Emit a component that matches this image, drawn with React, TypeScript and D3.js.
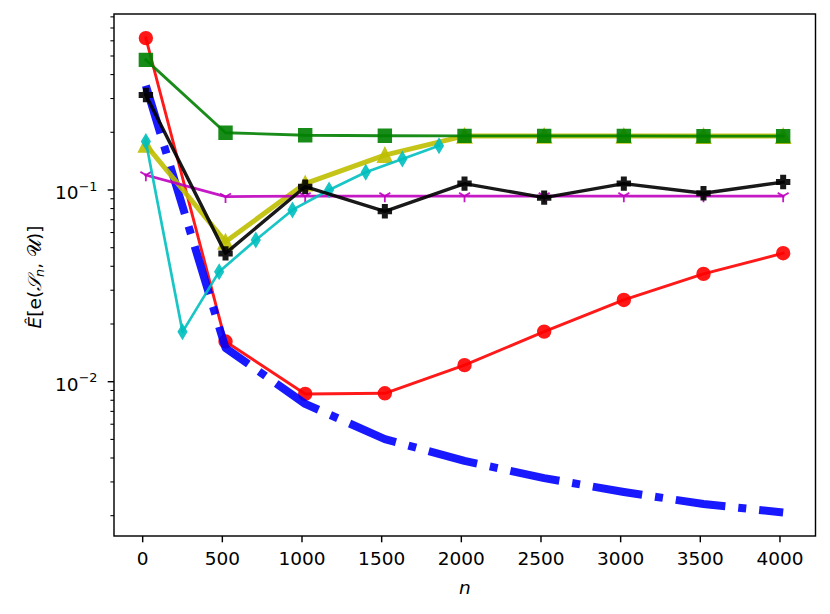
import React from "react";
import * as d3 from "d3";

// ---- data ----
const nValues = [20, 520, 1020, 1520, 2020, 2520, 3020, 3520, 4020];
const cyanN = [20, 250, 480, 710, 940, 1170, 1400, 1630, 1860];

const redVals = [0.62, 0.0162, 0.00863, 0.0087, 0.0122, 0.01825, 0.0267, 0.0365, 0.0468];
const blueVals = [0.35, 0.015, 0.00766, 0.00502, 0.00386, 0.00314, 0.00266, 0.0023, 0.00208];
const greenVals = [0.477, 0.199, 0.193, 0.192, 0.1915, 0.1915, 0.1915, 0.191, 0.191];
const yellowVals = [0.172, 0.0537, 0.108, 0.152, 0.1915, 0.1915, 0.1915, 0.191, 0.191];
const magentaVals = [0.1197, 0.0923, 0.093, 0.093, 0.093, 0.093, 0.093, 0.093, 0.093];
const cyanVals = [0.179, 0.0182, 0.0375, 0.0548, 0.0787, 0.1, 0.1237, 0.145, 0.17];
const blackVals = [0.313, 0.0467, 0.104, 0.0774, 0.108, 0.0912, 0.108, 0.0961, 0.11];

const xTicks = [0, 500, 1000, 1500, 2000, 2500, 3000, 3500, 4000];
const yMajor = [0.01, 0.1];
const yMajorLabels = ["−2", "−1"];

// ---- layout ----
const W = 830, H = 614;
const L = 114, R = 815.5, T = 14, B = 536;
const FONT = "'DejaVu Sans', 'Noto Sans', sans-serif";
const FS = 18.5;

type Marker = "circle" | "square" | "plus" | "tri" | "thindiamond" | "tridown" | "none";

function markerPath(m: Marker, s: number): string {
  const h = s / 2;
  switch (m) {
    case "square":
      return `M${-h},${-h}H${h}V${h}H${-h}Z`;
    case "plus": {
      const u = s / 6;
      const pts = [[-1, -3], [1, -3], [1, -1], [3, -1], [3, 1], [1, 1], [1, 3], [-1, 3], [-1, 1], [-3, 1], [-3, -1], [-1, -1]];
      return "M" + pts.map(p => `${p[0] * u},${p[1] * u}`).join("L") + "Z";
    }
    case "tri":
      return `M0,${-h}L${-h},${h}L${h},${h}Z`;
    case "thindiamond":
      return `M0,${-h}L${0.6 * h},0L0,${h}L${-0.6 * h},0Z`;
    case "tridown":
      return `M0,0L0,${h}M0,0L${-0.866 * h},${-0.5 * h}M0,0L${0.866 * h},${-0.5 * h}`;
    default:
      return "";
  }
}

const txt: React.CSSProperties = { fontFamily: FONT };

export default function App() {
  const x = d3.scaleLinear().domain([-180, 4223]).range([L, R]);
  const y = d3.scaleLog().domain([0.001567, 0.828]).range([B, T]);

  const series = [
    { xs: nValues, ys: redVals, color: "#ff0000", lw: 2.9, marker: "circle" as Marker, ms: 12.6, dash: undefined as string | undefined },
    { xs: nValues, ys: blueVals, color: "#0000ff", lw: 8, marker: "none" as Marker, ms: 0, dash: "50,13,8,13" },
    { xs: nValues, ys: yellowVals, color: "#bfbf00", lw: 5, marker: "tri" as Marker, ms: 14, dash: undefined },
    { xs: nValues, ys: magentaVals, color: "#bf00bf", lw: 2.7, marker: "tridown" as Marker, ms: 12.6, dash: undefined },
    { xs: cyanN, ys: cyanVals, color: "#00bfbf", lw: 2.7, marker: "thindiamond" as Marker, ms: 13.5, dash: undefined },
    { xs: nValues, ys: greenVals, color: "#008000", lw: 2.9, marker: "square" as Marker, ms: 12.6, dash: undefined },
    { xs: nValues, ys: blackVals, color: "#000000", lw: 3.4, marker: "plus" as Marker, ms: 12.6, dash: undefined },
  ];

  const line = d3.line<[number, number]>().x(d => x(d[0])).y(d => y(d[1]));

  const minorTicks: number[] = [];
  for (const dec of [0.001, 0.01, 0.1]) {
    for (let k = 2; k <= 9; k++) {
      const v = dec * k;
      if (v >= 0.001567 && v <= 0.828) minorTicks.push(v);
    }
  }

  return (
    <svg width={W} height={H} style={{ position: "absolute", left: 0, top: 0, background: "#fff", fontFamily: FONT }}>
      <rect x={0} y={0} width={W} height={H} fill="#fff" />
      <defs>
        <clipPath id="plotclip">
          <rect x={L} y={T} width={R - L} height={B - T} />
        </clipPath>
      </defs>
      <g clipPath="url(#plotclip)">
        {series.map((s, i) => {
          const pts = s.xs.map((xv, j) => [xv, s.ys[j]] as [number, number]);
          return (
            <g key={i}>
              <path d={line(pts) || ""} fill="none" stroke={s.color} strokeWidth={s.lw} strokeOpacity={0.9}
                strokeLinejoin="round" strokeLinecap={s.dash ? "butt" : "square"} strokeDasharray={s.dash} />
              {s.marker !== "none" && pts.map((p, j) => {
                const cx = x(p[0]), cy = y(p[1]);
                if (s.marker === "circle") {
                  return <circle key={j} cx={cx} cy={cy} r={s.ms / 2} fill={s.color} stroke={s.color} strokeWidth={1.8} opacity={0.9} />;
                }
                if (s.marker === "tridown") {
                  return <path key={j} transform={`translate(${cx},${cy})`} d={markerPath(s.marker, s.ms)} fill="none" stroke={s.color} strokeWidth={1.8} opacity={0.9} />;
                }
                return <path key={j} transform={`translate(${cx},${cy})`} d={markerPath(s.marker, s.ms)} fill={s.color} stroke={s.color} strokeWidth={1.8} strokeLinejoin="miter" opacity={0.9} />;
              })}
            </g>
          );
        })}
      </g>

      {/* axes frame */}
      <rect x={L} y={T} width={R - L} height={B - T} fill="none" stroke="#000" strokeWidth={1.44} />

      {/* x ticks */}
      {xTicks.map(t => (
        <g key={t} transform={`translate(${x(t)},${B})`}>
          <line y1={0} y2={6.3} stroke="#000" strokeWidth={1.44} />
          <text y={28.5} textAnchor="middle" fontSize={FS} fill="#000" style={txt}>{t}</text>
        </g>
      ))}

      {/* y major ticks */}
      {yMajor.map((t, i) => (
        <g key={t} transform={`translate(${L},${y(t)})`}>
          <line x1={0} x2={-6.3} stroke="#000" strokeWidth={1.44} />
          <text x={-16.5} y={9} textAnchor="end" fontSize={FS} fill="#000" style={txt}>
            <tspan>10</tspan>
            <tspan dy={-8.3} fontSize={12.8}>{yMajorLabels[i]}</tspan>
          </text>
        </g>
      ))}
      {/* y minor ticks */}
      {minorTicks.map(t => (
        <line key={t} x1={L} x2={L - 3.6} y1={y(t)} y2={y(t)} stroke="#000" strokeWidth={1.08} />
      ))}

      {/* x label */}
      <text x={(L + R) / 2} y={594} textAnchor="middle" fontSize={FS} fontStyle="italic" fill="#000" style={txt}>n</text>

      {/* y label */}
      <text transform={`translate(40.5,277) rotate(-90)`} textAnchor="middle" fontSize={FS} fill="#000" style={txt}>
        <tspan fontStyle="italic">Ê</tspan>
        <tspan>[e(</tspan>
        <tspan fontStyle="italic">𝒮</tspan>
        <tspan fontStyle="italic" fontSize={12.8} dy={3.5}>n</tspan>
        <tspan dy={-3.5}>, </tspan>
        <tspan>𝒰</tspan>
        <tspan>)]</tspan>
      </text>
    </svg>
  );
}
